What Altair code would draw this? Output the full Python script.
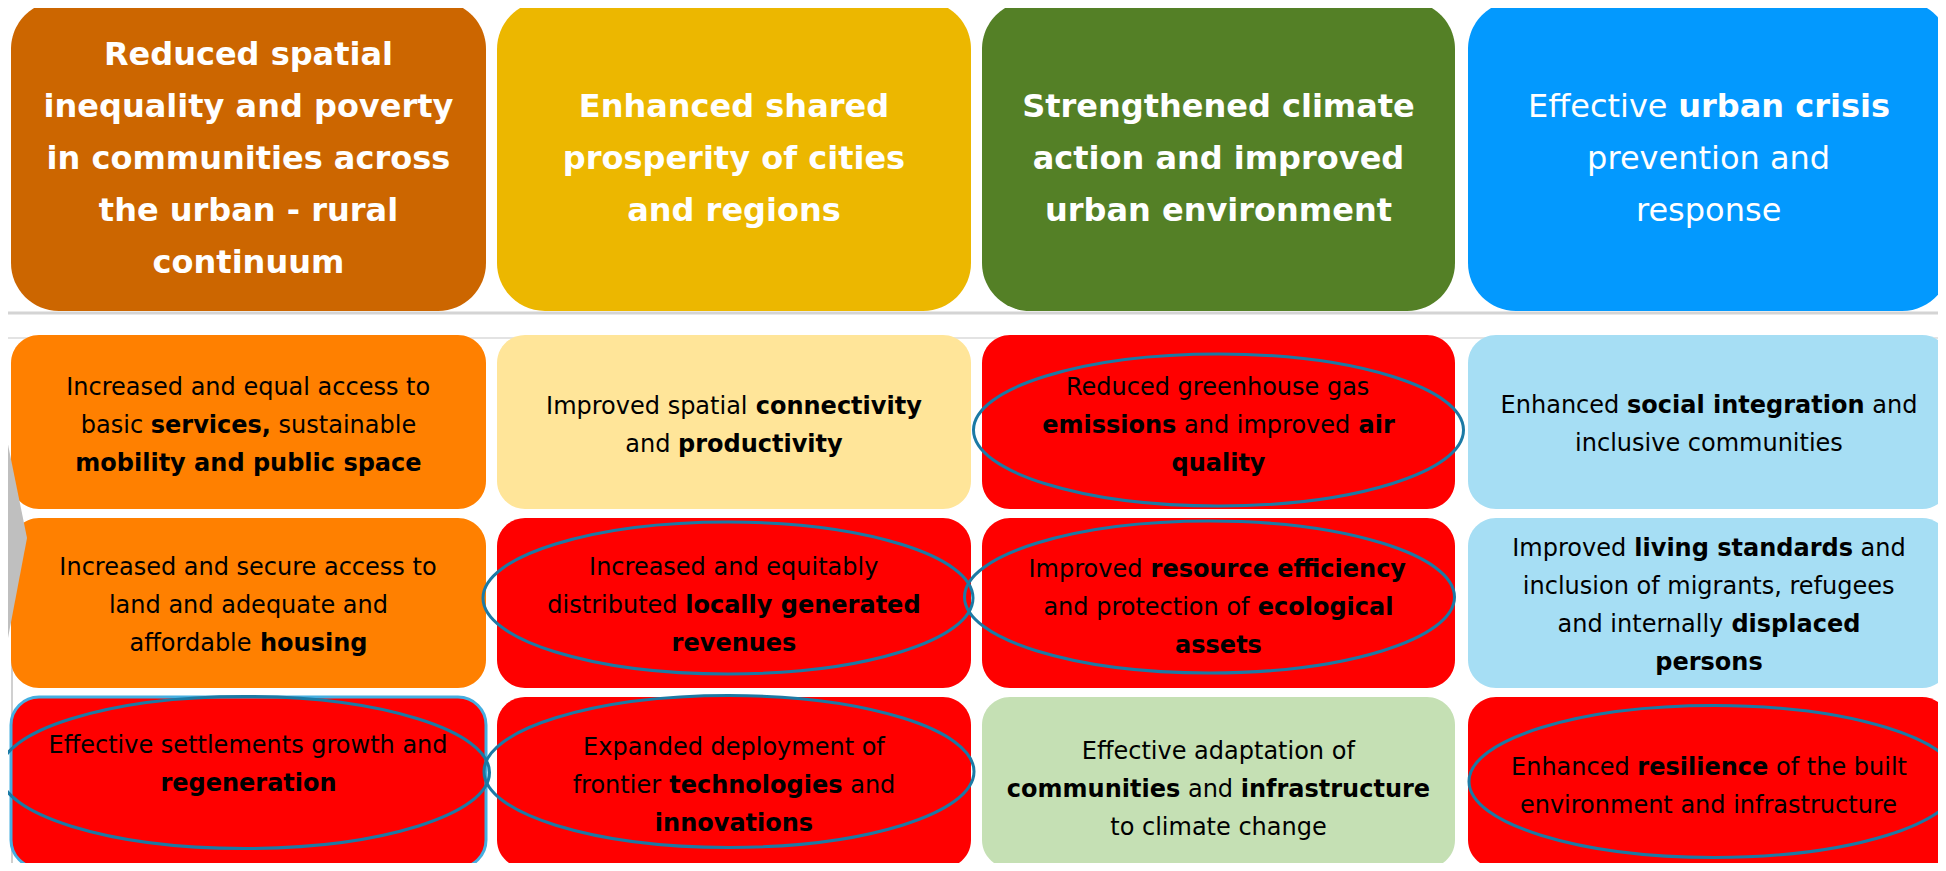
import altair as alt
import pandas as pd

# ---------------- content ----------------
# '**' toggles bold inside a line
header_lines = [
    ["**Reduced spatial**", "**inequality and poverty**", "**in communities across**",
     "**the urban - rural**", "**continuum**"],
    ["**Enhanced shared**", "**prosperity of cities**", "**and regions**"],
    ["**Strengthened climate**", "**action and improved**", "**urban environment**"],
    ["Effective **urban crisis**", "prevention and", "response"],
]
header_colors = ["#CC6600", "#ECB700", "#548026", "#0399FE"]

body_lines = [
    # row 1
    ["Increased and equal access to", "basic **services,** sustainable", "**mobility and public space**"],
    ["Improved spatial **connectivity**", "and **productivity**"],
    ["Reduced greenhouse gas", "**emissions** and improved **air**", "**quality**"],
    ["Enhanced **social integration** and", "inclusive communities"],
    # row 2
    ["Increased and secure access to", "land and adequate and", "affordable **housing**"],
    ["Increased and equitably", "distributed **locally generated**", "**revenues**"],
    ["Improved **resource efficiency**", "and protection of **ecological**", "**assets**"],
    ["Improved **living standards** and", "inclusion of migrants, refugees",
     "and internally **displaced**", "**persons**"],
    # row 3
    ["Effective settlements growth and", "**regeneration**"],
    ["Expanded deployment of", "frontier **technologies** and", "**innovations**"],
    ["Effective adaptation of", "**communities** and **infrastructure**", "to climate change"],
    ["Enhanced **resilience** of the built", "environment and infrastructure"],
]
body_colors = [
    "#FF8000", "#FFE599", "#FF0000", "#A6DEF4",
    "#FF8000", "#FF0000", "#FF0000", "#A6DEF4",
    "#FF0000", "#FF0000", "#C5E0B4", "#FF0000",
]
circled = [2, 5, 6, 8, 9, 11]   # body boxes with an ellipse
bordered = [8]                  # body box with a light-blue outline

# ---------------- layout ----------------
COL_X = [(11, 486), (497, 971), (982, 1455), (1468, 1950)]
ROW_Y = [(1, 311), (335, 509), (518, 688), (697, 868)]
HEAD_R, BODY_R = 48, 28
HEAD_FS, BODY_FS = 32, 24
HEAD_LS, BODY_LS = 52, 38
body_dy = [4, 4, 4, 3, 3, 3, 5, 3, -18, 3, 7, 4]
ellipse_off = {2: (0, 8), 5: (-6, -5), 6: (-9, -6), 8: (-4, -10), 9: (-5, -11), 11: (5, -1)}
ELLIPSE_RX = 245
ELLIPSE_SHAPE = "M -1 0 A 1 0.31 0 1 0 1 0 A 1 0.31 0 1 0 -1 0 Z"

# DejaVu Sans advance widths (em)
REG = dict(zip("abcdefghijklmnopqrstuvwxyz",
               [.613, .635, .550, .635, .615, .352, .635, .634, .278, .278, .579, .278, .974,
                .634, .612, .635, .635, .411, .521, .392, .634, .592, .818, .592, .592, .525]))
REG.update(dict(zip("ABCDEFGHIJKLMNOPQRSTUVWXYZ",
               [.684, .686, .698, .770, .632, .575, .775, .752, .295, .295, .656, .557, .863,
                .748, .787, .603, .787, .695, .635, .611, .732, .684, .989, .685, .611, .685])))
REG.update({" ": .318, ",": .318, ".": .318, "-": .361})
BLD = dict(zip("abcdefghijklmnopqrstuvwxyz",
               [.675, .716, .595, .716, .678, .435, .716, .712, .343, .343, .665, .343, 1.042,
                .712, .687, .716, .716, .493, .595, .478, .712, .652, .924, .645, .652, .583]))
BLD.update(dict(zip("ABCDEFGHIJKLMNOPQRSTUVWXYZ",
               [.774, .762, .734, .830, .683, .683, .821, .837, .372, .372, .775, .637, .995,
                .837, .850, .733, .850, .770, .720, .682, .812, .774, 1.103, .771, .724, .725])))
BLD.update({" ": .348, ",": .380, ".": .380, "-": .416})


def tw(s, bold, fs):
    tab = BLD if bold else REG
    return sum(tab.get(c, 0.6) for c in s) * fs


def layout_line(line, cx, cy, fs, color, rows):
    parts = line.split("**")
    segs = [(p, i % 2 == 1) for i, p in enumerate(parts) if p]
    total = sum(tw(p, b, fs) for p, b in segs)
    x = cx - total / 2
    for p, b in segs:
        lead = len(p) - len(p.lstrip(" "))
        txt = p.strip()
        if txt:
            rows.append(dict(x=x + tw(p[:lead], b, fs), y=cy, t=txt,
                             w="bold" if b else "normal", fs=fs, c=color))
        x += tw(p, b, fs)


rects_h, rects_b, texts, ells = [], [], [], []
for j, lines in enumerate(header_lines):
    x0, x1 = COL_X[j]
    y0, y1 = ROW_Y[0]
    rects_h.append(dict(x=x0, x2=x1, y=y0, y2=y1, fill=header_colors[j]))
    cx, cy = (x0 + x1) / 2, (y0 + y1) / 2 + 3
    n = len(lines)
    for i, ln in enumerate(lines):
        layout_line(ln, cx, cy + (i - (n - 1) / 2) * HEAD_LS, HEAD_FS, "white", texts)

for k, lines in enumerate(body_lines):
    r, j = divmod(k, 4)
    x0, x1 = COL_X[j]
    y0, y1 = ROW_Y[r + 1]
    rects_b.append(dict(x=x0, x2=x1, y=y0, y2=y1, fill=body_colors[k],
                        stroke="#45AEE0" if k in bordered else body_colors[k],
                        sw=3 if k in bordered else 0))
    cx, cy = (x0 + x1) / 2, (y0 + y1) / 2 + body_dy[k]
    n = len(lines)
    for i, ln in enumerate(lines):
        layout_line(ln, cx, cy + (i - (n - 1) / 2) * BODY_LS, BODY_FS, "black", texts)
    if k in circled:
        dx, dy = ellipse_off[k]
        ells.append(dict(x=(x0 + x1) / 2 + dx, y=(y0 + y1) / 2 + dy))

df_h = pd.DataFrame(rects_h)
df_b = pd.DataFrame(rects_b)
df_t = pd.DataFrame(texts)
df_e = pd.DataFrame(ells)
df_rules = pd.DataFrame(dict(x=[0, 0], x2=[1950, 1950], y=[313, 338],
                             c=["#D4D4D4", "#E3E3E3"], sw=[3, 2]))
df_vline = pd.DataFrame(dict(x=[12], y=[640], y2=[880]))
df_chev = pd.DataFrame(dict(y=[405, 538, 680], x=[0, 27, 0], x0=[0, 0, 0]))

xs = alt.Scale(domain=[8, 1938], nice=False, zero=False)
ys = alt.Scale(domain=[8, 863], nice=False, zero=False, reverse=True)
X = lambda f: alt.X(f, scale=xs, axis=None)
Y = lambda f: alt.Y(f, scale=ys, axis=None)

rules = alt.Chart(df_rules).mark_rule().encode(
    x=X("x:Q"), x2="x2:Q", y=Y("y:Q"),
    color=alt.Color("c:N", scale=None), strokeWidth=alt.StrokeWidth("sw:Q", scale=None))

vline = alt.Chart(df_vline).mark_rule(color="#D0D0D0", strokeWidth=2).encode(
    x=X("x:Q"), y=Y("y:Q"), y2="y2:Q")

heads = alt.Chart(df_h).mark_rect(cornerRadius=HEAD_R).encode(
    x=X("x:Q"), x2="x2:Q", y=Y("y:Q"), y2="y2:Q", fill=alt.Fill("fill:N", scale=None))

bodies = alt.Chart(df_b).mark_rect(cornerRadius=BODY_R).encode(
    x=X("x:Q"), x2="x2:Q", y=Y("y:Q"), y2="y2:Q",
    fill=alt.Fill("fill:N", scale=None), stroke=alt.Stroke("stroke:N", scale=None),
    strokeWidth=alt.StrokeWidth("sw:Q", scale=None))

chev = alt.Chart(df_chev).mark_area(orient="horizontal", color="#BFBFBF").encode(
    y=Y("y:Q"), x=X("x:Q"), x2="x0:Q")

ellipses = alt.Chart(df_e).mark_point(
    shape=ELLIPSE_SHAPE, size=(2 * ELLIPSE_RX) ** 2, filled=False,
    stroke="#1B7AA5", strokeWidth=3, opacity=1).encode(x=X("x:Q"), y=Y("y:Q"))


def text_layer(weight, fs, color):
    d = df_t[(df_t.w == weight) & (df_t.fs == fs) & (df_t.c == color)]
    return alt.Chart(d).mark_text(
        align="left", baseline="middle", font="DejaVu Sans", fontSize=fs,
        fontWeight=weight, color=color).encode(x=X("x:Q"), y=Y("y:Q"), text="t:N")


layers = [rules, vline, heads, bodies, chev, ellipses]
for wgt in ["normal", "bold"]:
    layers.append(text_layer(wgt, HEAD_FS, "white"))
    layers.append(text_layer(wgt, BODY_FS, "black"))

chart = alt.layer(*layers).properties(
    width=1930, height=855, padding=0,
    autosize=alt.AutoSizeParams(type="none"),
    background="white",
).configure_view(stroke=None)

chart.save("out.html", embed_options={"renderer": "svg", "actions": False})
